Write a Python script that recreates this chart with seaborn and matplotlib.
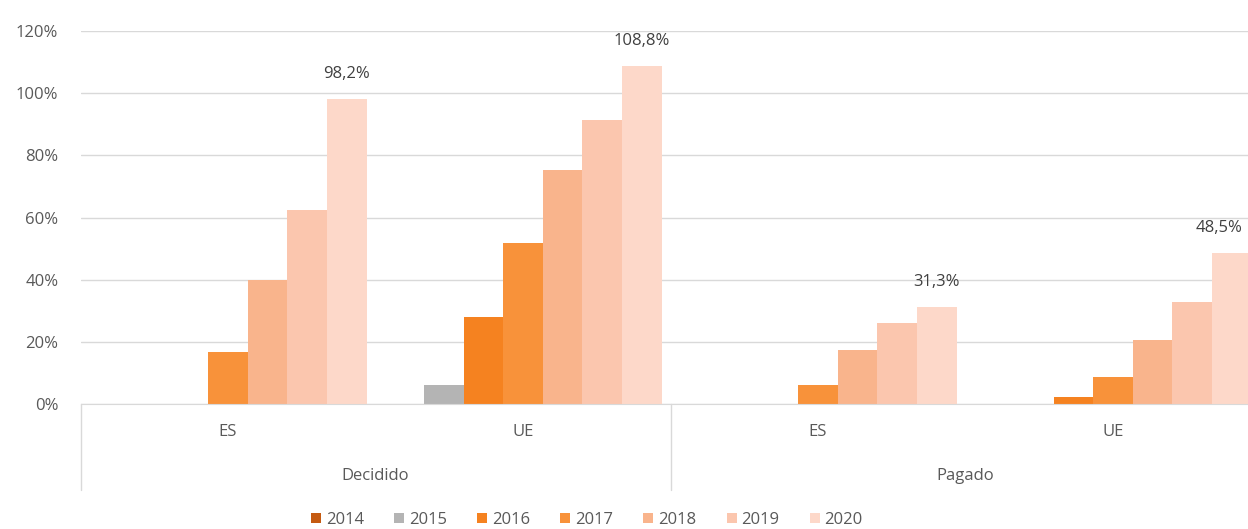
import matplotlib
matplotlib.use("Agg")
import matplotlib.pyplot as plt
import matplotlib.transforms as mtransforms
import seaborn as sns
import pandas as pd

# values (percent)
groups = ["Decidido", "Decidido", "Pagado", "Pagado"]
regions = ["ES", "UE", "ES", "UE"]
years = ["2014", "2015", "2016", "2017", "2018", "2019", "2020"]
es_decidido = [0, 0, 0, 16.7, 39.9, 62.4, 98.2]
ue_decidido = [0, 6.0, 28.0, 51.8, 75.2, 91.3, 108.8]
es_pagado = [0, 0, 0, 6.1, 17.4, 26.0, 31.3]
ue_pagado = [0, 0, 2.2, 8.7, 20.5, 32.8, 48.5]
label_texts = ["98,2%", "108,8%", "31,3%", "48,5%"]

colors = ["#c55a11", "#b4b4b4", "#f58220", "#f8923a", "#f9b48c", "#fbc6ae", "#fdd8c9"]

series = [es_decidido, ue_decidido, es_pagado, ue_pagado]
cats = [f"{g}|{r}" for g, r in zip(groups, regions)]
rows = []
for cat, vals in zip(cats, series):
    for y, v in zip(years, vals):
        rows.append({"cat": cat, "year": y, "value": v})
df = pd.DataFrame(rows)

sns.set_style("white")
plt.rcParams["font.family"] = ["Open Sans", "DejaVu Sans"]
text_color = "#595959"

fig = plt.figure(figsize=(12.48, 5.29), dpi=100)
ax = fig.add_axes([80.5 / 1248, 125 / 529, 1180 / 1248, 373 / 529])

sns.barplot(data=df, x="cat", y="value", hue="year", order=cats, hue_order=years,
            palette=colors, width=0.94, saturation=1, linewidth=0, ax=ax, legend=True)

ax.set_ylim(0, 120)
ax.set_xlim(-0.5, 3.5)
ax.set_yticks(range(0, 121, 20))
ax.set_yticklabels([f"{v}%" for v in range(0, 121, 20)], fontsize=12, color=text_color)
ax.yaxis.grid(True, color="#d9d9d9", linewidth=1)
ax.set_axisbelow(True)
ax.tick_params(axis="y", length=0, pad=16)
ax.set_xticks([])
ax.set_xlabel("")
ax.set_ylabel("")
for s in ["left", "right", "top"]:
    ax.spines[s].set_visible(False)
ax.spines["bottom"].set_color("#d9d9d9")

# labels on the 2020 bars (the last one nudged left so it stays inside the picture)
last = ax.containers[-1]
shifts = [0, 0, 0, -9]
for bar, txt, dx in zip(last.patches, label_texts, shifts):
    ax.annotate(txt, (bar.get_x() + bar.get_width() / 2, bar.get_height()),
                xytext=(dx, 18), textcoords="offset points", ha="center", va="center",
                fontsize=12, color="#404040")

# two-level category axis
trans = mtransforms.blended_transform_factory(ax.transData, ax.transAxes)
for i, r in enumerate(regions):
    ax.text(i, -28 / 373, r, transform=trans, ha="center", va="center",
            fontsize=12, color=text_color)
for i, g in enumerate(["Decidido", "Pagado"]):
    ax.text(2 * i + 0.5, -72 / 373, g, transform=trans, ha="center", va="center",
            fontsize=12, color=text_color)
for xs in [-0.5, 1.5, 3.5]:
    ax.plot([xs, xs], [0, -86 / 373], transform=trans, color="#d9d9d9",
            linewidth=1, clip_on=False)

handles, labels = ax.get_legend_handles_labels()
ax.get_legend().remove()
fig.legend(handles, labels, loc="center", bbox_to_anchor=(587 / 1248, 1 - 520 / 529),
           ncol=7, frameon=False, fontsize=12, handlelength=0.6, handleheight=0.6,
           handletextpad=0.3, columnspacing=1.8, labelcolor=text_color)

fig.savefig("out.png", dpi=100)
